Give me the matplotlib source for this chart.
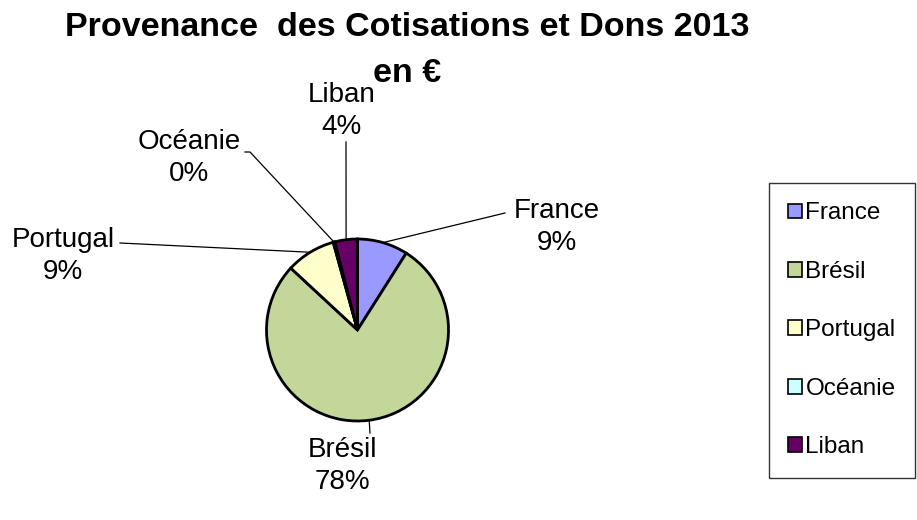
import matplotlib
matplotlib.use("Agg")
import matplotlib.pyplot as plt
import numpy as np
from matplotlib import font_manager

categories = ["France", "Brésil", "Portugal", "Océanie", "Liban"]
values = [9.0, 77.9, 8.8, 0.3, 4.0]
pct_labels = ["9%", "78%", "9%", "0%", "4%"]
colors = ["#9999FF", "#C4D79B", "#FFFFCC", "#CCFFFF", "#660066"]

names = {f.name for f in font_manager.fontManager.ttflist}
base_font = "Liberation Sans" if "Liberation Sans" in names else "DejaVu Sans"
plt.rcParams["font.family"] = [base_font, "DejaVu Sans"]

W, H = 917, 520
fig = plt.figure(figsize=(W / 100, H / 100), dpi=100)
ax = fig.add_axes([0, 0, 1, 1])

cx, cy, r = 357.5, H - 330, 91
wedges, _ = ax.pie(values, colors=colors, startangle=90, counterclock=False,
                   center=(cx, cy), radius=r, frame=True,
                   wedgeprops=dict(edgecolor="black", linewidth=2))
ax.set_xlim(0, W)
ax.set_ylim(0, H)
ax.set_aspect("equal")
ax.axis("off")

# label placement (image pixel coords): text center, leader end points
label_pos = {
    "France": (557, 227),
    "Brésil": (342, 466),
    "Portugal": (63, 256),
    "Océanie": (189, 158),
    "Liban": (342, 111),
}
leader_end = {
    "France": [(505, 213)],
    "Brésil": [(370, 433)],
    "Portugal": [(120, 243)],
    "Océanie": [(250, 152), (245, 152)],
    "Liban": [(346, 142)],
}
for w, cat, pl in zip(wedges, categories, pct_labels):
    mid = np.deg2rad((w.theta1 + w.theta2) / 2)
    sx, sy = cx + r * np.cos(mid), cy + r * np.sin(mid)
    pts = [(sx, sy)] + [(x, H - y) for x, y in leader_end[cat]]
    ax.plot([p[0] for p in pts], [p[1] for p in pts], color="black", lw=0.9, zorder=0)
    tx, ty = label_pos[cat]
    ax.text(tx, H - ty, f"{cat}\n{pl}", ha="center", va="center",
            fontsize=20, linespacing=1.3, color="black")

fig.text(407 / W, 1 - 28 / H, "Provenance  des Cotisations et Dons 2013",
         ha="center", va="center", fontsize=24.5, fontweight="bold")
fig.text(407 / W, 1 - 73 / H, "en €",
         ha="center", va="center", fontsize=24.5, fontweight="bold")

leg = fig.legend(wedges, categories, loc="upper left",
                 bbox_to_anchor=(769 / W, 1 - 183 / H),
                 fontsize=17.5, frameon=True, fancybox=False,
                 handlelength=0.55, handleheight=0.55, handletextpad=0.15,
                 labelspacing=1.5, borderpad=0.8, borderaxespad=0)
leg.get_frame().set_edgecolor("black")
leg.get_frame().set_linewidth(1.0)
for h in leg.legend_handles:
    h.set_linewidth(1.2)

fig.savefig("out.png", dpi=100)
